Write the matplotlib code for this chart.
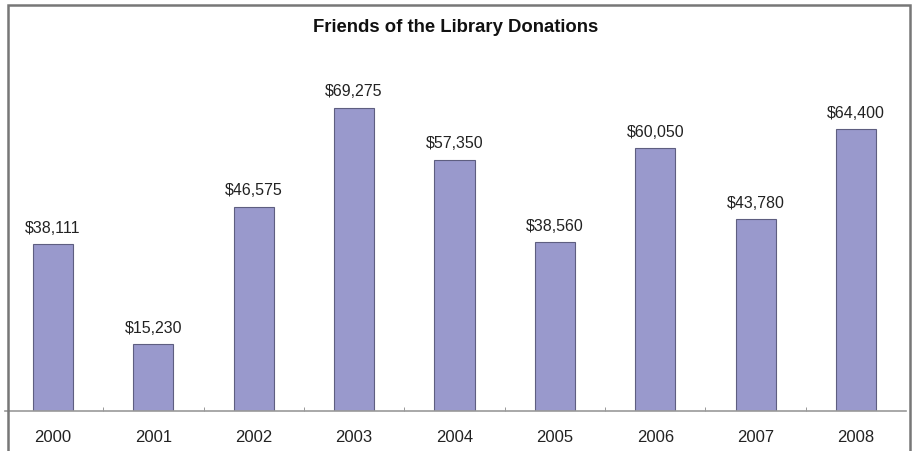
import matplotlib.pyplot as plt
import matplotlib.patches as patches
import numpy as np

years = ["2000", "2001", "2002", "2003", "2004", "2005", "2006", "2007", "2008"]
donations = [38111, 15230, 46575, 69275, 57350, 38560, 60050, 43780, 64400]

plt.rcParams['font.family'] = ['Liberation Sans', 'DejaVu Sans']

fig = plt.figure(figsize=(9.16, 4.51), dpi=100)
ax = fig.add_axes([5 / 916, 40 / 451, 901 / 916, 371 / 451])

x = np.arange(len(years))
ax.bar(x, donations, width=0.4, color="#9999cc", edgecolor="#5e5e80", linewidth=0.8)

for xi, v in zip(x, donations):
    ax.text(xi, v + 2000, f"${v:,}", ha="center", va="bottom", fontsize=11.5, color="#222222")

ax.set_xlim(-0.478, 8.498)
ax.set_ylim(0, 84800)
ax.set_xticks(x)
ax.set_xticklabels(years, fontsize=12, color="#222222")
ax.set_xticks(x[:-1] + 0.5, minor=True)
ax.tick_params(axis="x", which="major", length=0, pad=14)
ax.tick_params(axis="x", which="minor", direction="in", length=3, color="#888888")
ax.set_yticks([])
for s in ["top", "right", "left"]:
    ax.spines[s].set_visible(False)
ax.spines["bottom"].set_color("#999999")
ax.spines["bottom"].set_linewidth(1.2)

fig.text(456 / 916, 1 - 28 / 451, "Friends of the Library Donations", ha="center", va="center",
         fontsize=13.3, fontweight="bold", color="#111111")

# outer frame of the chart area
fig.patches.append(patches.Rectangle((8 / 916, -0.05), 902 / 916, 1 - 5 / 451 + 0.05,
                                     transform=fig.transFigure, fill=False,
                                     edgecolor="#777777", linewidth=1.8))

fig.savefig("out.png", dpi=100)
